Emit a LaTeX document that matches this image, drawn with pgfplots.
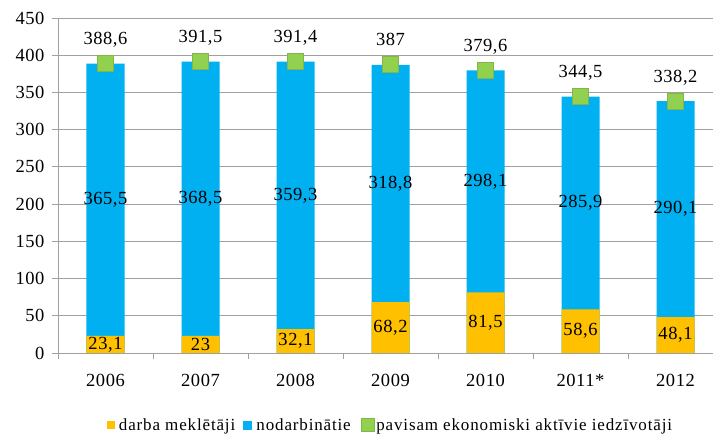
\documentclass[border=0pt]{standalone}
\usepackage{fontspec}
\setmainfont{Liberation Serif}[LetterSpace=3]
\newfontfamily\legfont{Liberation Serif}[LetterSpace=5]
\usepackage{pgfplots}
\usepackage{pgfplotstable}
\pgfplotsset{compat=1.18}
\definecolor{cYellow}{HTML}{FFC000}
\definecolor{cBlue}{HTML}{00B0F0}
\definecolor{cGreen}{HTML}{92D050}
\definecolor{cGreenD}{HTML}{84B547}
\definecolor{cGrid}{HTML}{A0A0A0}

\pgfplotstableread{
x seek empl total
0 23.1 365.5 388.6
1 23   368.5 391.5
2 32.1 359.3 391.4
3 68.2 318.8 387
4 81.5 298.1 379.6
5 58.6 285.9 344.5
6 48.1 290.1 338.2
}\data

\begin{document}
\begin{tikzpicture}
\begin{axis}[
  scale only axis,
  width=665pt, height=335pt,
  xmin=-0.5, xmax=6.5,
  ymin=0, ymax=450,
  ytick={0,50,...,450},
  xtick={-0.5,0.5,...,6.5},
  x tick label as interval,
  xticklabels={2006,2007,2008,2009,2010,2011*,2012},
  axis x line*=bottom, axis y line*=left,
  axis line style={-, draw=cGrid, line width=0.8pt},
  ymajorgrids, grid style={draw=cGrid, line width=0.8pt},
  tick align=outside,
  major tick length=6pt,
  tick style={draw=cGrid, line width=0.8pt},
  tick label style={font=\fontsize{18.5}{20}\selectfont},
  yticklabel style={xshift=-4pt},
  xticklabel style={yshift=-12pt},
  /pgf/number format/.cd, use comma, 1000 sep={}, assume math mode=true,
  /pgfplots/.cd,
  legend columns=3,
  legend style={at={(0.5,-0.215)}, anchor=center, draw=none, fill=none,
    font=\legfont\fontsize{17}{19}\selectfont},
]
\coordinate (bl) at (rel axis cs:0,0);
\coordinate (tr) at (rel axis cs:1,1);
% employed (drawn to the total height, the job seekers cover its lower part)
\addplot[forget plot, ybar, bar width=38pt, bar shift=0pt, fill=cBlue, draw=none]
  table[x=x, y=total] {\data};
\addplot[ybar, bar width=38pt, bar shift=0pt, fill=cYellow, draw=none,
  legend image code/.code={\fill[cYellow] (0pt,-4pt) rectangle (8pt,4pt); \path[draw=none, fill=none] (0pt,0pt) -- (10pt,0pt);}]
  table[x=x, y=seek] {\data};
\addlegendentry{darba meklētāji\hspace*{6pt}}
\addlegendimage{legend image code/.code={\fill[cBlue] (0pt,-4pt) rectangle (8pt,4pt); \path[draw=none, fill=none] (0pt,0pt) -- (11pt,0pt);}}
\addlegendentry{nodarbinātie\hspace*{8pt}}
% labels
\addplot[forget plot, draw=none, mark=none, nodes near coords, point meta=explicit,
  every node near coord/.append style={anchor=center, text=black, inner sep=0pt, font=\fontsize{18.5}{20}\selectfont}]
  table[x=x, y expr=0.5*\thisrow{seek}, meta=seek] {\data};
\addplot[forget plot, draw=none, mark=none, nodes near coords, point meta=explicit,
  every node near coord/.append style={anchor=center, text=black, inner sep=0pt, font=\fontsize{18.5}{20}\selectfont}]
  table[x=x, y expr=\thisrow{seek}+0.5*\thisrow{empl}, meta=empl] {\data};
% totals
\addplot[only marks, mark=square*, mark size=8pt,
  mark options={fill=cGreen, draw=cGreenD, line width=0.8pt},
  nodes near coords, point meta=explicit,
  every node near coord/.append style={anchor=base, yshift=19pt, text=black, inner sep=0pt, font=\fontsize{18.5}{20}\selectfont},
  legend image code/.code={\draw[fill=cGreen, draw=cGreenD, line width=0.6pt] (0pt,-6.5pt) rectangle (13pt,6.5pt);}]
  table[x=x, y=total, meta=total] {\data};
\addlegendentry{pavisam ekonomiski aktīvie iedzīvotāji}
\end{axis}
\pgfresetboundingbox
\path (bl) ++(-58pt,-81pt) rectangle ([shift={(-10pt,18pt)}]tr);
\end{tikzpicture}
\end{document}
